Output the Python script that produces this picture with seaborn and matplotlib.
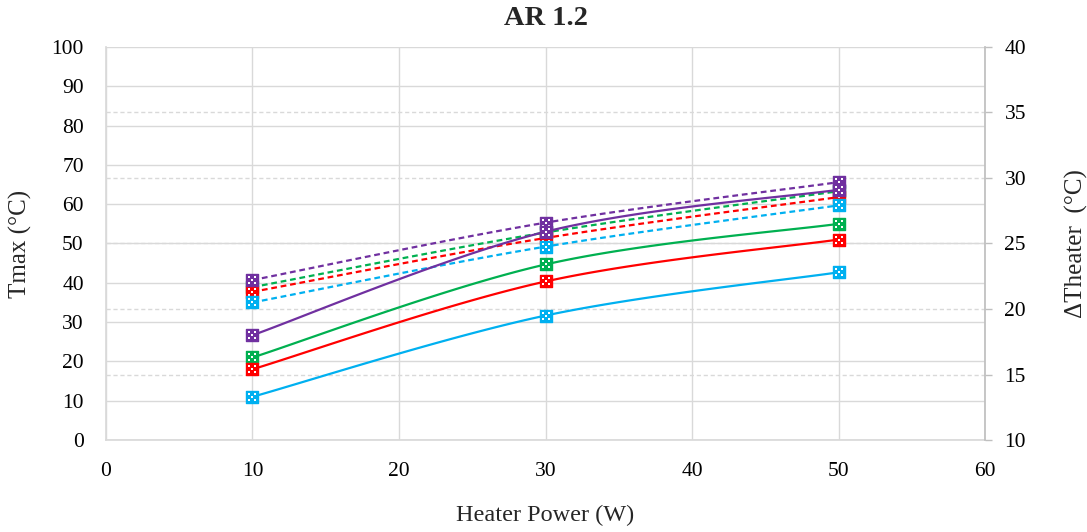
import numpy as np
import pandas as pd
import matplotlib
matplotlib.use("Agg")
import matplotlib.pyplot as plt
import seaborn as sns
from matplotlib.path import Path
from matplotlib.transforms import Affine2D, blended_transform_factory

# Heater power levels (W)
power = [10, 30, 50]

# Maximum temperature, left axis (dashed curves)
tmax_green = [38.9, 52.8, 63.3]
tmax_red = [37.7, 51.4, 61.8]
tmax_blue = [35.0, 49.2, 59.7]
tmax_purple = [40.7, 55.3, 65.6]

# Heater temperature rise, right axis (solid curves)
dth_green = [16.3, 23.4, 26.5]
dth_red = [15.4, 22.1, 25.3]
dth_blue = [13.3, 19.5, 22.8]
dth_purple = [18.0, 25.9, 29.1]

colors = {"green": "#00B050", "red": "#FF0000", "blue": "#00B0F0", "purple": "#7030A0"}
series_order = ["green", "red", "blue", "purple"]
tmax = {"green": tmax_green, "red": tmax_red, "blue": tmax_blue, "purple": tmax_purple}
dth = {"green": dth_green, "red": dth_red, "blue": dth_blue, "purple": dth_purple}

x_ticks = [0, 10, 20, 30, 40, 50, 60]
left_ticks = [0, 10, 20, 30, 40, 50, 60, 70, 80, 90, 100]
right_ticks = [10, 15, 20, 25, 30, 35, 40]

sns.set_theme(style="white")
plt.rcParams["font.family"] = ["Liberation Serif", "DejaVu Serif"]


def smooth_curve(xs, ys, n=60):
    """Spreadsheet-style smoothed line: cubic Bezier segments through the points."""
    p = np.column_stack([xs, ys]).astype(float)
    k = len(p)
    out = []
    t = np.linspace(0, 1, n)[:, None]
    for i in range(k - 1):
        p0 = p[i]
        p1 = p[i + 1]
        prev = p[i - 1] if i > 0 else p[i]
        nxt = p[i + 2] if i + 2 < k else p[i + 1]
        c1 = p0 + (p1 - prev) / 6.0
        c2 = p1 - (nxt - p0) / 6.0
        seg = ((1 - t) ** 3) * p0 + 3 * ((1 - t) ** 2) * t * c1 + 3 * (1 - t) * t ** 2 * c2 + t ** 3 * p1
        out.append(seg if i == 0 else seg[1:])
    curve = np.vstack(out)
    return curve[:, 0], curve[:, 1]


def dotted_marker():
    """Small white squares in a dice pattern, used as the marker's fill texture."""
    sq = Path.unit_rectangle()
    parts = []
    for cx, cy in [(-1, 1), (1, 1), (0, 0), (-1, -1), (1, -1)]:
        parts.append(sq.transformed(Affine2D().translate(-0.5, -0.5).scale(0.5).translate(cx * 0.7, cy * 0.7)))
    return Path.make_compound_path(*parts)


DOTS = dotted_marker()

fig = plt.figure(figsize=(10.87, 5.32), dpi=100)
ax = fig.add_axes([0.0975, 0.1729, 0.8087, 0.7388])
ax2 = ax.twinx()

ax.set_xlim(0, 60)
ax.set_ylim(0, 100)
ax2.set_ylim(10, 40)

grid_c = "#D9D9D9"
ax.set_xticks(x_ticks)
ax.set_yticks(left_ticks)
ax2.set_yticks(right_ticks)
ax.grid(True, color=grid_c, linewidth=1.0)
ax2.grid(False)
ax.set_axisbelow(True)

# secondary-axis gridlines, kept beneath the data
tr = blended_transform_factory(ax.transAxes, ax2.transData)
for v in right_ticks[1:-1]:
    ax.plot([0, 1], [v, v], transform=tr, color=grid_c, linewidth=1.0,
            linestyle=(0, (3, 2)), zorder=0.5)

msize = 9.0


def draw_series(axis, ys, c, z, dashed):
    cx, cy = smooth_curve(power, ys)
    ls = (0, (2.6, 1.7)) if dashed else "-"
    sns.lineplot(x=cx, y=cy, ax=axis, color=c, linewidth=1.6, sort=False,
                 estimator=None, linestyle=ls, zorder=z)
    sns.scatterplot(x=power, y=ys, ax=axis, marker="s", s=msize ** 2,
                    color=c, edgecolor=c, linewidth=1.0, zorder=z + 0.1)
    sns.scatterplot(x=power, y=ys, ax=axis, marker=DOTS, s=(msize * 0.62) ** 2,
                    color="white", linewidth=0, zorder=z + 0.2)


z = 3
for name in series_order:
    draw_series(ax, tmax[name], colors[name], z, dashed=True)
    z += 1

z = 3
for name in series_order:
    draw_series(ax2, dth[name], colors[name], z, dashed=False)
    z += 1

ax.set_xlim(0, 60)
ax.set_ylim(0, 100)
ax2.set_ylim(10, 40)

for s in ["left", "bottom", "top", "right"]:
    ax.spines[s].set_visible(s in ("left", "bottom"))
    ax.spines[s].set_color(grid_c)
for s in ["left", "bottom", "top"]:
    ax2.spines[s].set_visible(False)
ax2.spines["right"].set_color("#BFBFBF")

tick_fs = 15.5
ax.tick_params(axis="both", length=0, labelsize=tick_fs, colors="black")
ax.tick_params(axis="y", pad=16)
ax.tick_params(axis="x", pad=16)
ax2.tick_params(axis="y", length=5, width=1, color="#BFBFBF", direction="out",
                labelsize=tick_fs, labelcolor="black", pad=9)

ax.set_xlabel("Heater Power (W)", fontsize=17.5, va="center")
ax.xaxis.set_label_coords(0.5, -0.1908)
ax.set_ylabel("Tmax (°C)", fontsize=18, va="center")
ax.yaxis.set_label_coords(-0.0978, 0.5)
ax2.set_ylabel("ΔTheater  (°C)", fontsize=18, va="center", rotation=90)
ax2.yaxis.set_label_coords(1.1035, 0.5)

ax.set_title("AR 1.2", fontsize=20.5, fontweight="bold", y=1.0712, va="center", pad=0)

fig.savefig("out.png", dpi=100, facecolor="white")
